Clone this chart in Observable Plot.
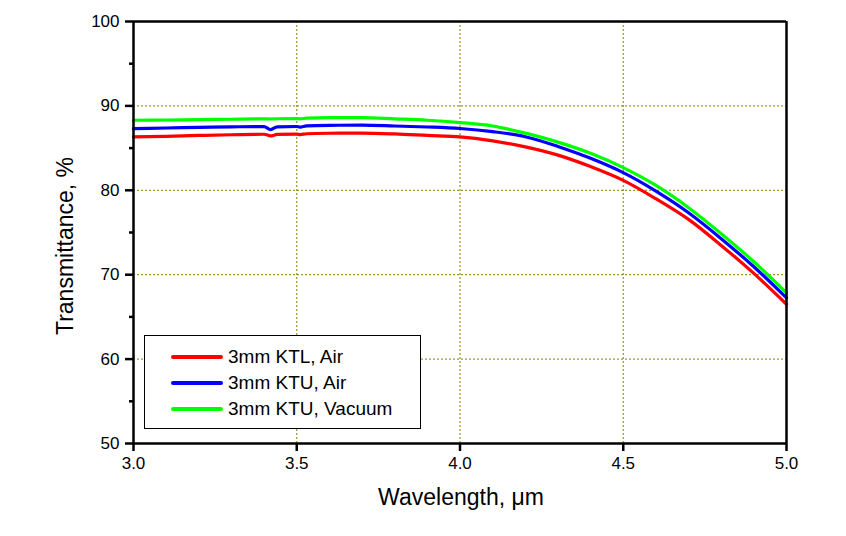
<!DOCTYPE html>
<html>
<head>
<meta charset="utf-8">
<script src="https://cdn.jsdelivr.net/npm/d3@7"></script>
<script src="https://cdn.jsdelivr.net/npm/@observablehq/plot@0.6"></script>
<style>
  html, body { margin: 0; padding: 0; background: #fff; }
  #wrap { position: relative; width: 846px; height: 536px; font-family: "Liberation Sans", Arial, sans-serif; }
  #legend { position: absolute; left: 144px; top: 335px; width: 275px; height: 92px; border: 1px solid #000; background: #fff; box-sizing: content-box; }
  .row { position: absolute; left: 0; height: 20px; }
  .sw { position: absolute; left: 26px; width: 52px; height: 4px; border-radius: 2px; }
  .lab { position: absolute; left: 83px; font-size: 19px; white-space: nowrap; color: #000; line-height: 20px; top: -10px; }
  .title { position: absolute; font-size: 23px; line-height: 1; white-space: nowrap; color: #000; }
  #xtitle { left: 461px; top: 497px; transform: translate(-50%, -50%); }
  #ytitle { left: 65px; top: 246px; transform: translate(-50%, -50%) rotate(-90deg); }
  g[aria-label="x-axis tick"] path, g[aria-label="y-axis tick"] path { stroke-width: 2.5px; }
</style>
</head>
<body>
<div id="wrap"></div>
<script>
const wavelength = [3.0,3.1,3.2,3.3,3.4,3.42,3.44,3.5,3.51,3.53,3.6,3.7,3.8,3.9,4.0,4.1,4.2,4.3,4.4,4.5,4.6,4.7,4.8,4.9,5.0];
const ktlAir    = [86.32,86.40,86.50,86.58,86.64,86.44,86.62,86.66,86.60,86.70,86.76,86.78,86.68,86.50,86.32,85.85,85.15,84.17,82.81,81.18,79.00,76.55,73.47,70.15,66.50];
const ktuAir    = [87.31,87.38,87.45,87.52,87.55,87.20,87.52,87.56,87.48,87.64,87.70,87.72,87.62,87.50,87.32,86.95,86.35,85.20,83.79,82.09,79.90,77.34,74.27,70.94,67.25];
const ktuVacuum = [88.30,88.33,88.37,88.42,88.46,88.45,88.48,88.50,88.47,88.54,88.60,88.60,88.46,88.30,88.02,87.62,86.77,85.71,84.38,82.68,80.57,77.94,74.86,71.54,67.85];

const seriesNames = ["3mm KTL, Air", "3mm KTU, Air", "3mm KTU, Vacuum"];
const seriesColors = ["#ff0000", "#0000ff", "#00ff00"];
const seriesValues = [ktlAir, ktuAir, ktuVacuum];

const xTitle = "Wavelength, μm";
const yTitle = "Transmittance, %";
const xTicks = [3.0, 3.5, 4.0, 4.5, 5.0];
const yTicks = [50, 60, 70, 80, 90, 100];
const yMinorTicks = [55, 65, 75, 85, 95];
const xGrid = [3.5, 4.0, 4.5];
const yGrid = [60, 70, 80, 90];

const rows = [];
seriesValues.forEach((vals, s) => {
  wavelength.forEach((w, i) => rows.push({series: seriesNames[s], x: w, y: vals[i]}));
});

const grid = "#808000";
const chart = Plot.plot({
  width: 846,
  height: 536,
  marginLeft: 133,
  marginRight: 60,
  marginTop: 21,
  marginBottom: 93,
  style: {fontFamily: "'Liberation Sans', Arial, sans-serif", fontSize: "17px", color: "#000", background: "#fff"},
  x: {domain: [3, 5]},
  y: {domain: [50, 100]},
  marks: [
    Plot.ruleX(xGrid, {stroke: grid, strokeWidth: 1, strokeDasharray: "2,2"}),
    Plot.ruleY(yGrid, {stroke: grid, strokeWidth: 1, strokeDasharray: "2,2"}),
    ...seriesNames.map((name, s) =>
      Plot.line(rows.filter(d => d.series === name), {x: "x", y: "y", stroke: seriesColors[s], strokeWidth: 3.2, curve: "monotone-x"})
    ),
    Plot.ruleX([3, 5], {stroke: "#000", strokeWidth: 2.5}),
    Plot.ruleY([50, 100], {stroke: "#000", strokeWidth: 2.5}),
    Plot.axisX({ticks: xTicks, tickFormat: d3.format(".1f"), tickSize: 8, tickPadding: 5, strokeWidth: 2.5, label: null, fontSize: 17}),
    Plot.axisY({ticks: yTicks, tickFormat: d3.format("d"), tickSize: 8, tickPadding: 6, strokeWidth: 2.5, label: null, fontSize: 17}),
    Plot.axisY({ticks: yMinorTicks, tickSize: 4, strokeWidth: 2.5, text: null, label: null})
  ]
});

const wrap = document.getElementById("wrap");
wrap.appendChild(chart);

const xt = document.createElement("div");
xt.id = "xtitle"; xt.className = "title"; xt.textContent = xTitle;
wrap.appendChild(xt);
const yt = document.createElement("div");
yt.id = "ytitle"; yt.className = "title"; yt.textContent = yTitle;
wrap.appendChild(yt);

const legend = document.createElement("div");
legend.id = "legend";
seriesNames.forEach((name, i) => {
  const row = document.createElement("div");
  row.className = "row";
  row.style.top = (21 + i * 25.8) + "px";
  const sw = document.createElement("div");
  sw.className = "sw";
  sw.style.background = seriesColors[i];
  sw.style.top = "-2px";
  const lab = document.createElement("div");
  lab.className = "lab";
  lab.textContent = name;
  row.appendChild(sw);
  row.appendChild(lab);
  legend.appendChild(row);
});
wrap.appendChild(legend);
</script>
</body>
</html>
